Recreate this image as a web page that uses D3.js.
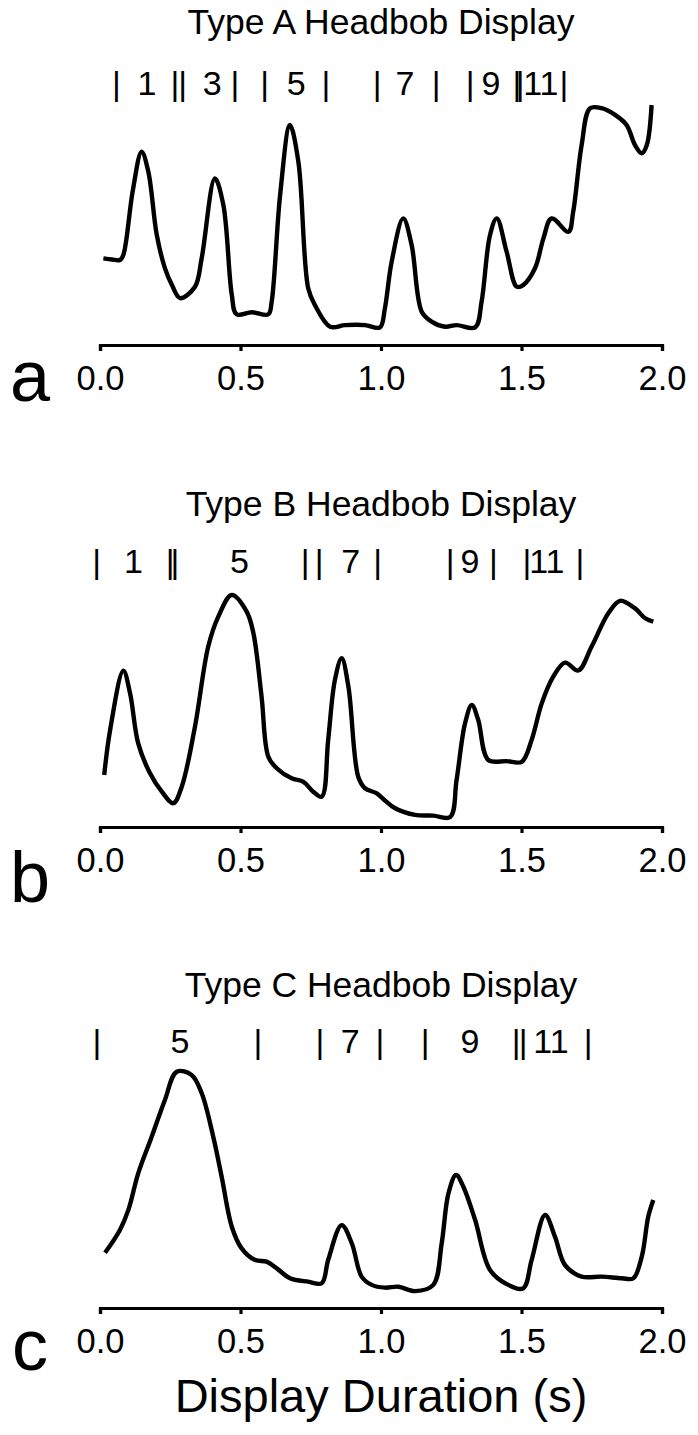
<!DOCTYPE html>
<html>
<head>
<meta charset="utf-8">
<script src="https://cdn.jsdelivr.net/npm/d3@7"></script>
<style>
  html, body { margin: 0; padding: 0; background: #fff; }
  svg { display: block; }
  text { font-family: "Liberation Sans", Arial, Helvetica, sans-serif; fill: #000; }
</style>
</head>
<body>
<div id="chart"></div>
<script>
// ---------------- DATA ----------------
const panelTitles = ["Type A Headbob Display", "Type B Headbob Display", "Type C Headbob Display"];
const panelLetters = ["a", "b", "c"];
const xTicks = [0, 0.5, 1.0, 1.5, 2.0];
const xTickLabels = ["0.0", "0.5", "1.0", "1.5", "2.0"];
const xAxisTitle = "Display Duration (s)";

// Type A trace (time s, relative amplitude)
const timeA = [0.012,0.043,0.071,0.083,0.117,0.148,0.172,0.202,0.231,0.256,0.285,0.338,0.362,0.409,0.439,0.469,0.486,0.540,0.599,0.611,0.641,0.676,0.706,0.741,0.765,0.819,0.872,0.943,0.996,1.014,1.038,1.079,1.109,1.145,1.180,1.228,1.269,1.335,1.358,1.388,1.412,1.447,1.483,1.506,1.548,1.578,1.607,1.667,1.684,1.714,1.744,1.785,1.833,1.874,1.904,1.928,1.946,1.963];
const valueA = [33.3,32.8,32.6,34.8,63.0,79.7,71.0,43.5,29.1,21.7,16.0,21.0,33.5,68.1,56.5,17.4,9.0,9.9,9.0,14.5,60.9,91.3,75.3,20.3,13.0,3.6,4.3,4.3,3.3,11.7,31.9,50.7,39.1,10.1,5.8,3.6,4.3,3.3,14.5,43.5,50.7,36.2,21.0,21.7,29.0,42.0,50.7,44.9,53.6,82.6,98.6,98.6,95.7,91.3,82.6,79.0,82.6,100];

// Type B trace
const timeB = [0.015,0.036,0.083,0.107,0.136,0.178,0.220,0.261,0.291,0.338,0.385,0.421,0.469,0.522,0.546,0.575,0.599,0.629,0.682,0.724,0.759,0.789,0.812,0.836,0.860,0.884,0.919,0.943,0.985,1.012,1.050,1.121,1.186,1.246,1.269,1.299,1.323,1.346,1.382,1.447,1.501,1.536,1.572,1.613,1.655,1.702,1.750,1.809,1.851,1.904,1.940,1.969];
const valueB = [18.3,37.8,63.6,53.8,32.0,19.0,11.0,6.0,13.2,39.3,74.0,87.1,96.5,89.3,79.9,52.3,26.2,21.2,16.8,15.3,11.0,8.8,33.5,59.6,69.0,56.7,17.5,12.5,10.3,7.4,3.8,0.9,0.6,0.0,16.1,40.7,48.7,42.2,24.8,24.3,24.0,33.5,49.4,61.0,67.1,63.7,74.2,88.6,94.0,90.7,86.4,84.9];

// Type C trace
const timeC = [0.018,0.071,0.101,0.136,0.184,0.231,0.273,0.326,0.362,0.403,0.433,0.469,0.504,0.552,0.593,0.629,0.676,0.741,0.789,0.812,0.860,0.896,0.931,0.967,1.014,1.062,1.121,1.186,1.216,1.240,1.267,1.293,1.335,1.388,1.453,1.506,1.536,1.584,1.619,1.655,1.714,1.785,1.857,1.898,1.928,1.951,1.969];
const valueC = [19.7,29.6,38.3,54.2,70.1,86.1,98.4,97.0,89.0,70.1,52.7,31.0,21.6,16.5,15.8,12.9,8.6,7.1,6.4,16.5,31.7,23.8,9.3,5.7,4.5,4.9,3.0,5.7,23.8,45.5,53.5,48.4,33.9,12.2,5.7,4.2,16.5,36.1,26.7,14.3,9.3,9.3,8.6,8.6,18.0,35.3,42.6];

// Segment markers above each trace (time s, text)
const markTimesA = [0.058,0.167,0.267,0.294,0.399,0.480,0.586,0.698,0.804,0.986,1.085,1.196,1.317,1.391,1.480,1.569,1.651];
const markTextA  = ["|","1","|","|","3","|","|","5","|","|","7","|","|","9","||","11","|"];
const markTimesB = [-0.012,0.119,0.251,0.496,0.730,0.780,0.892,0.988,1.246,1.317,1.400,1.519,1.590,1.708];
const markTextB  = ["|","1","||","5","|","|","7","|","|","9","|","|","11","|"];
const markTimesC = [-0.011,0.285,0.562,0.783,0.890,0.996,1.157,1.317,1.490,1.605,1.737];
const markTextC  = ["|","5","|","|","7","|","|","9","||","11","|"];

const panels = [
  { time: timeA, value: valueA, markT: markTimesA, markS: markTextA },
  { time: timeB, value: valueB, markT: markTimesB, markS: markTextB },
  { time: timeC, value: valueC, markT: markTimesC, markS: markTextC }
];

// ---------------- LAYOUT / STYLE ----------------
const W = 698, H = 1435;
const panelOffsets = [0, 482, 963];
const rowBaselines = [95, 573, 1053];
const letterBaselines = [401, 902, 1370];
// letter-spacing used for the tightly packed double bars in each panel row
const doubleBarSpacing = ["-5.5px", "-4px", "-2px"];
const svg = d3.select("#chart").append("svg").attr("width", W).attr("height", H);

const x = d3.scaleLinear().domain([0, 2]).range([100, 662]);

panels.forEach((p, i) => {
  const off = panelOffsets[i];
  const axisY = 345 + off;
  const y = d3.scaleLinear().domain([0, 100]).range([axisY - 10, axisY - 240]);
  const g = svg.append("g");

  // title
  g.append("text")
    .attr("x", 381).attr("y", 34 + off)
    .attr("text-anchor", "middle")
    .style("font-size", "35.5px")
    .text(panelTitles[i]);

  // segment markers
  g.selectAll("text.mark").data(p.markT.map((t, k) => ({ t, s: p.markS[k] })))
    .join("text").attr("class", "mark")
    .attr("x", d => x(d.t)).attr("y", rowBaselines[i])
    .attr("text-anchor", "middle")
    .style("font-size", "34px")
    .style("letter-spacing", d => d.s === "||" ? doubleBarSpacing[i] : null)
    .text(d => d.s);

  // trace
  const line = d3.line()
    .x((d, k) => x(p.time[k]))
    .y(d => y(d))
    .curve(d3.curveCatmullRom.alpha(0.5));
  g.append("path")
    .attr("d", line(p.value))
    .attr("fill", "none")
    .attr("stroke", "#000")
    .attr("stroke-width", 4.4)
    .attr("stroke-linejoin", "round")
    .attr("stroke-linecap", "butt");

  // axis
  const axis = d3.axisBottom(x).tickValues(xTicks)
    .tickFormat((d, k) => xTickLabels[k])
    .tickSize(6).tickPadding(15);
  const ag = g.append("g").attr("transform", `translate(0,${axisY})`).call(axis);
  ag.select(".domain").attr("stroke", "#000").attr("stroke-width", 3.2);
  ag.selectAll(".tick line").attr("stroke", "#000").attr("stroke-width", 3.2);
  ag.selectAll(".tick text")
    .style("font-size", "34.5px")
    .style("font-family", "'Liberation Sans', Arial, sans-serif")
    .attr("fill", "#000");

  // panel letter
  g.append("text")
    .attr("x", 30).attr("y", letterBaselines[i])
    .attr("text-anchor", "middle")
    .style("font-size", "72px")
    .text(panelLetters[i]);
});

svg.append("text")
  .attr("x", 381).attr("y", 1412)
  .attr("text-anchor", "middle")
  .style("font-size", "47px")
  .text(xAxisTitle);
</script>
</body>
</html>
